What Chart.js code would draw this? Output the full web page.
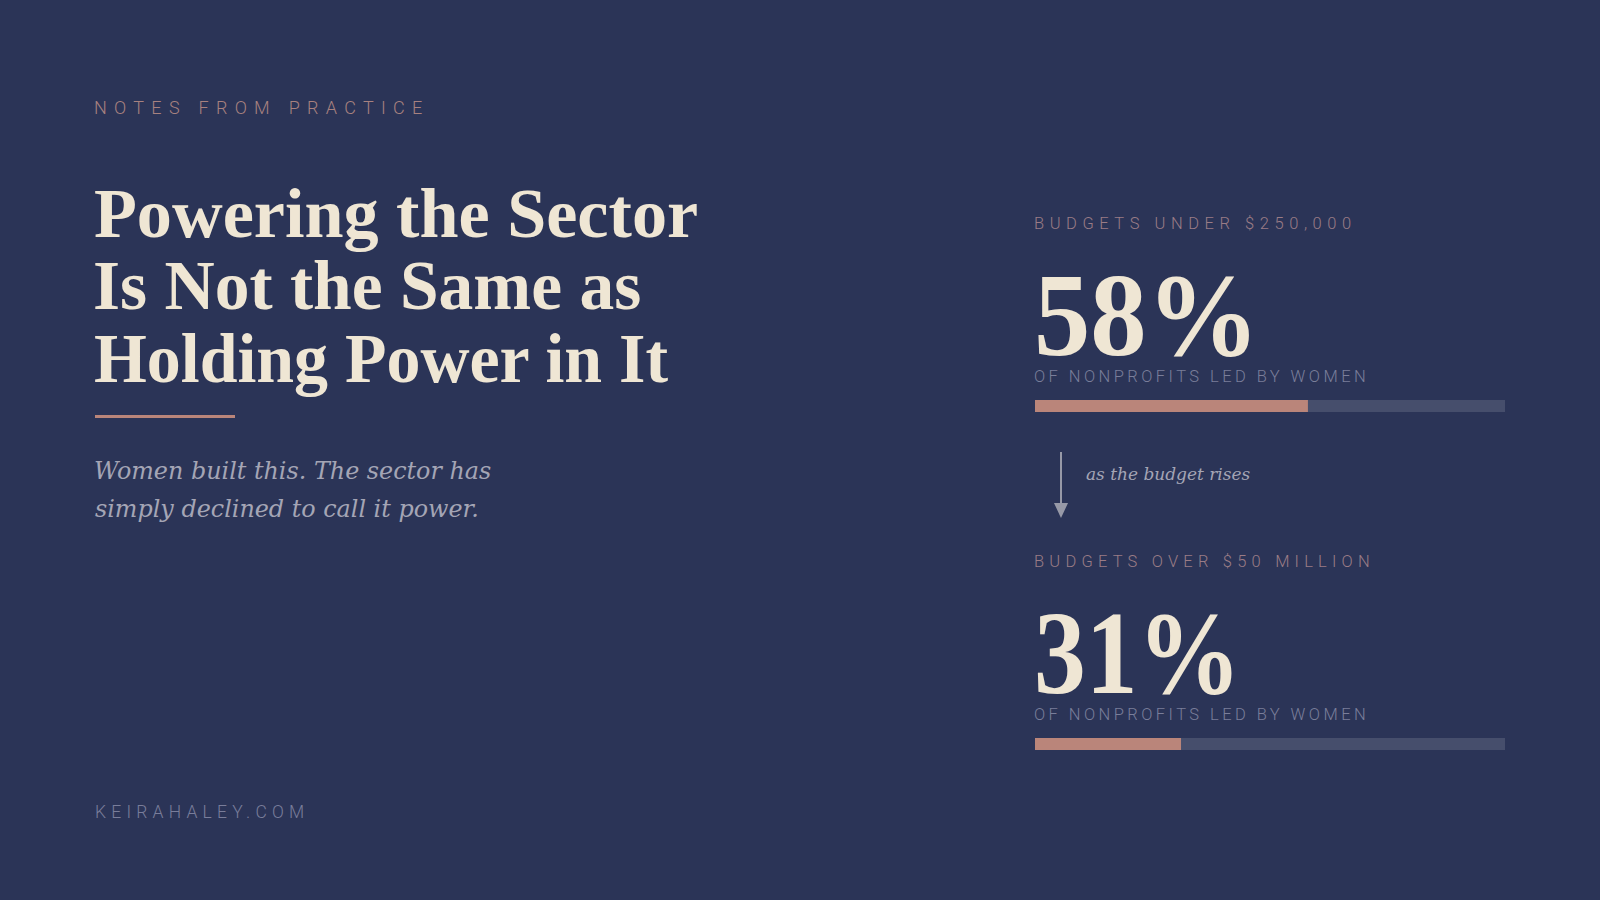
<!DOCTYPE html>
<html>
<head>
<meta charset="utf-8">
<script src="https://cdn.jsdelivr.net/npm/chart.js@4.4.1/dist/chart.umd.min.js"></script>
<style>
  html, body { margin: 0; padding: 0; background: #2b3457; }
  #stage { position: relative; width: 1600px; height: 900px; overflow: hidden; background: #2b3457; }
  .t { position: absolute; white-space: pre; margin: 0; }
  canvas.bar { position: absolute; }
</style>
</head>
<body>
<div id="stage"></div>
<script>
// ---------- data ----------
const categories = ["BUDGETS UNDER $250,000", "BUDGETS OVER $50 MILLION"];
const shareLedByWomen = [58, 31];          // percent of nonprofits led by women
const measureLabel = "OF NONPROFITS LED BY WOMEN";
const scaleMax = 100;
const titleLines = ["Powering the Sector", "Is Not the Same as", "Holding Power in It"];
const subtitleLines = ["Women built this. The sector has", "simply declined to call it power."];
const eyebrow = "NOTES FROM PRACTICE";
const transitionNote = "as the budget rises";
const footer = "KEIRAHALEY.COM";

// ---------- style ----------
const C = {
  bg: "#2b3457", cream: "#efe6d4", eyebrow: "#a7817f", label: "#9a7c86",
  fill: "#ba857a", track: "#464e6c", gray: "#7a7e9a", italic: "#a4a5b5",
  arrow: "#9799a7", footer: "#797d9a"
};
const SERIF = "'Liberation Serif', 'Times New Roman', serif";
const ITALIC = "'DejaVu Serif', serif";
const SANS = "Roboto, 'Open Sans', sans-serif";

const stage = document.getElementById("stage");
const mctx = document.createElement("canvas").getContext("2d");
function fontStr(s, size) { return `${s.style || "normal"} ${s.weight || 400} ${size}px ${s.family}`; }
function measure(s, size) { mctx.font = fontStr(s, size); return mctx.measureText(s.text); }
const inkW = m => m.actualBoundingBoxRight + m.actualBoundingBoxLeft;

function addText(s) {
  let size = s.size, ls = 0, sx = 1;
  let m = measure(s, size);
  if (s.fit === "size") { size = size * s.w / inkW(m); m = measure(s, size); }
  else if (s.fit === "track") { ls = (s.w - inkW(m)) / (s.text.length - 1); }
  else if (s.fit === "scale") { sx = s.w / inkW(m); }
  const A = m.fontBoundingBoxAscent, D = m.fontBoundingBoxDescent;
  const lh = s.tight ? Math.round(size * s.tight) : Math.ceil(A + D) + 4;
  const el = document.createElement("div");
  el.className = "t";
  el.textContent = s.text;
  el.style.font = fontStr(s, size);
  el.style.lineHeight = lh + "px";
  el.style.letterSpacing = ls + "px";
  el.style.color = s.color;
  el.style.left = (s.x + m.actualBoundingBoxLeft * sx) + "px";
  el.style.top = (s.base - ((lh - (A + D)) / 2 + A)) + "px";
  if (sx !== 1) { el.style.transformOrigin = "0 0"; el.style.transform = `scaleX(${sx})`; }
  stage.appendChild(el);
  return size;
}

function addBox(x, y, w, h, color) {
  const d = document.createElement("div");
  Object.assign(d.style, { position: "absolute", left: x + "px", top: y + "px", width: w + "px", height: h + "px", background: color });
  stage.appendChild(d);
}

function addBar(x, y, w, h, category, value) {
  const cv = document.createElement("canvas");
  cv.className = "bar"; cv.width = w; cv.height = h;
  cv.style.left = x + "px"; cv.style.top = y + "px";
  stage.appendChild(cv);
  new Chart(cv.getContext("2d"), {
    type: "bar",
    data: {
      labels: [category],
      datasets: [
        { data: [value], backgroundColor: C.fill, borderWidth: 0, barPercentage: 1, categoryPercentage: 1 },
        { data: [scaleMax - value], backgroundColor: C.track, borderWidth: 0, barPercentage: 1, categoryPercentage: 1 }
      ]
    },
    options: {
      indexAxis: "y", responsive: false, animation: false,
      layout: { padding: 0 },
      plugins: { legend: { display: false }, tooltip: { enabled: false } },
      scales: {
        x: { stacked: true, min: 0, max: scaleMax, display: false },
        y: { stacked: true, display: false }
      }
    }
  });
}

function build() {
  // left column
  addText({ text: eyebrow, x: 95, base: 114, family: SANS, weight: 300, size: 18, color: C.eyebrow, fit: "track", w: 327 });
  const titleBases = [237, 309, 382];
  const titleWidths = [602, 545, 575];
  const tSize = (() => { const m = measure({ text: titleLines[0], family: SERIF, weight: 700 }, 69); return 69 * 602 / inkW(m); })();
  titleLines.forEach((t, i) => addText({ text: t, x: 95, base: titleBases[i], family: SERIF, weight: 700, size: tSize, color: C.cream, tight: 1.0, fit: "scale", w: titleWidths[i] }));
  addBox(95, 415, 140, 3, C.fill);
  const sSize = (() => { const m = measure({ text: subtitleLines[0], family: ITALIC, style: "italic" }, 22); return 22 * 396 / inkW(m); })();
  const subBases = [479, 517];
  subtitleLines.forEach((t, i) => addText({ text: t, x: 95, base: subBases[i], family: ITALIC, style: "italic", size: sSize, color: C.italic, tight: 1.3 }));
  addText({ text: footer, x: 96, base: 818, family: SANS, weight: 300, size: 17.5, color: C.footer, fit: "track", w: 207 });

  // right column
  const blocks = [
    { labelBase: 229, labelW: 316, numBase: 355, numW: 211, descBase: 382, barY: 400 },
    { labelBase: 567, labelW: 334, numBase: 693, numW: 194, descBase: 720, barY: 738 }
  ];
  const numSize = 118;
  categories.forEach((cat, i) => {
    const b = blocks[i];
    addText({ text: cat, x: 1035, base: b.labelBase, family: SANS, weight: 300, size: 16.5, color: C.label, fit: "track", w: b.labelW, tight: 1.0 });
    addText({ text: shareLedByWomen[i] + "%", x: 1038, base: b.numBase, family: SERIF, weight: 700, size: numSize, color: C.cream, fit: "scale", w: b.numW, tight: 0.78 });
    addText({ text: measureLabel, x: 1035, base: b.descBase, family: SANS, weight: 300, size: 16.5, color: C.gray, fit: "track", w: 330, tight: 1.0 });
    addBar(1035, b.barY, 470, 12, cat, shareLedByWomen[i]);
  });

  // transition arrow + note
  const svgNS = "http://www.w3.org/2000/svg";
  const svg = document.createElementNS(svgNS, "svg");
  svg.setAttribute("width", "30"); svg.setAttribute("height", "80");
  Object.assign(svg.style, { position: "absolute", left: "1046px", top: "445px" });
  const ln = document.createElementNS(svgNS, "line");
  ln.setAttribute("x1", "15"); ln.setAttribute("x2", "15"); ln.setAttribute("y1", "7"); ln.setAttribute("y2", "62");
  ln.setAttribute("stroke", C.arrow); ln.setAttribute("stroke-width", "2");
  const tri = document.createElementNS(svgNS, "polygon");
  tri.setAttribute("points", "8,58 22,58 15,73");
  tri.setAttribute("fill", C.arrow);
  svg.appendChild(ln); svg.appendChild(tri);
  stage.appendChild(svg);
  addText({ text: transitionNote, x: 1086, base: 480, family: ITALIC, style: "italic", size: 18, color: C.italic, fit: "size", w: 164 });
}

(document.fonts && document.fonts.ready ? document.fonts.ready : Promise.resolve()).then(build);
</script>
</body>
</html>
